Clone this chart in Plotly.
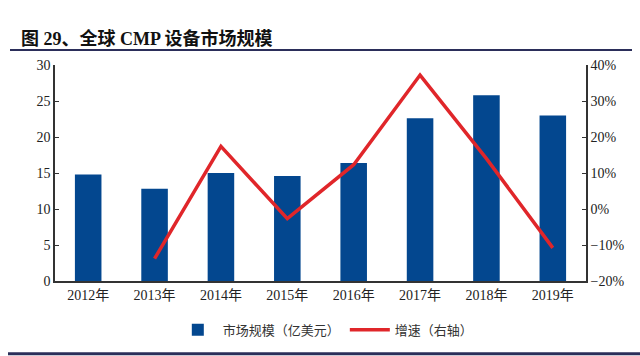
import plotly.graph_objects as go

years = ["2012年", "2013年", "2014年", "2015年", "2016年", "2017年", "2018年", "2019年"]
market = [14.8, 12.8, 15.0, 14.6, 16.4, 22.6, 25.8, 23.0]
growth_years = ["2013年", "2014年", "2015年", "2016年", "2017年", "2018年", "2019年"]
growth = [-13.8, 17.4, -2.7, 12.3, 37.2, 14.0, -10.8]

serif = "Liberation Serif, Noto Sans CJK SC"

fig = go.Figure()
fig.add_trace(go.Bar(x=years, y=market, name="市场规模（亿美元）",
                     marker=dict(color="#03478F", line=dict(width=0)), yaxis="y"))
fig.add_trace(go.Scatter(x=growth_years, y=growth, name="增速（右轴）", mode="lines",
                         line=dict(color="#E0262A", width=3.5), yaxis="y2"))

fig.update_layout(
    width=640, height=356,
    margin=dict(l=55, r=54, t=65, b=74),
    paper_bgcolor="white", plot_bgcolor="white",
    bargap=0.6,
    font=dict(family=serif, size=14, color="#222"),
    xaxis=dict(showline=True, linecolor="#333", linewidth=1.5, ticks="", showgrid=False,
               tickfont=dict(family=serif, size=14)),
    yaxis=dict(range=[0, 30], dtick=5, showline=True, linecolor="#333", linewidth=1.5,
               ticks="inside", ticklen=4, tickcolor="#333", showgrid=False, zeroline=False,
               tickfont=dict(family=serif, size=14)),
    yaxis2=dict(range=[-20, 40], dtick=10, overlaying="y", side="right", showline=True,
                linecolor="#333", linewidth=1.5, ticks="inside", ticklen=4, tickcolor="#333",
                showgrid=False, zeroline=False, ticksuffix="%",
                tickfont=dict(family=serif, size=14)),
    legend=dict(orientation="h", x=0.51, y=-0.22, xanchor="center", yanchor="middle",
                font=dict(family="Noto Sans CJK SC", size=13, color="#333"),
                itemwidth=40, tracegroupgap=0),
    showlegend=True,
)

fig.add_annotation(text="<b>图 29、全球 CMP 设备市场规模</b>", xref="paper", yref="paper",
                   x=(19 - 55) / 531, y=(282 - 38) / 217, xanchor="left", yanchor="middle",
                   showarrow=False, font=dict(family="Liberation Serif, Noto Sans CJK SC", size=18, color="#111"))
fig.add_shape(type="line", xref="paper", yref="paper",
              x0=(10 - 55) / 531, x1=(632 - 55) / 531, y0=(282 - 50) / 217, y1=(282 - 50) / 217,
              line=dict(color="#2B2E5A", width=2))
fig.add_shape(type="line", xref="paper", yref="paper",
              x0=(8 - 55) / 531, x1=(640 - 55) / 531, y0=(282 - 355) / 217, y1=(282 - 355) / 217,
              line=dict(color="#2B2E5A", width=3))

fig.write_html("out.html", config={"displayModeBar": False},
               post_script="document.body.style.margin='0';")
